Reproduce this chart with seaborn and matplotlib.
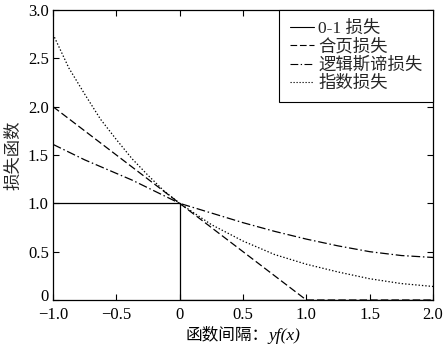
import numpy as np
import pandas as pd
import matplotlib
matplotlib.use("Agg")
import matplotlib.pyplot as plt
import matplotlib.transforms as mtransforms
from matplotlib.offsetbox import TextArea, HPacker, AnchoredOffsetbox
import seaborn as sns

# ---- data ----
margin = [-1.0, -0.875, -0.75, -0.625, -0.5, -0.375, -0.25, -0.125, 0.0,
          0.25, 0.5, 0.75, 1.0, 1.25, 1.5, 1.75, 2.0]
exp_loss = [2.75, 2.40, 2.13, 1.87, 1.66, 1.46, 1.29, 1.13, 1.0,
            0.78, 0.61, 0.47, 0.37, 0.29, 0.22, 0.17, 0.14]
logistic_loss = [1.61, 1.53, 1.45, 1.38, 1.31, 1.24, 1.16, 1.08, 1.0,
                 0.90, 0.80, 0.71, 0.63, 0.56, 0.50, 0.46, 0.44]
hinge_x = [-1.0, 1.0, 2.0]
hinge_loss = [2.0, 0.0, 0.0]
zero_one_x = [-1.0, 0.0, 0.0, 2.0]
zero_one_loss = [1.0, 1.0, 0.0, 0.0]

series_names = ["0-1 损失", "合页损失", "逻辑斯谛损失", "指数损失"]
x_ticks = [-1.0, -0.5, 0.0, 0.5, 1.0, 1.5, 2.0]
x_tick_labels = ["\u22121.0", "\u22120.5", "0", "0.5", "1.0", "1.5", "2.0"]
y_ticks = [0.0, 0.5, 1.0, 1.5, 2.0, 2.5, 3.0]
y_tick_labels = ["0", "0.5", "1.0", "1.5", "2.0", "2.5", "3.0"]
x_label_cn = "函数间隔："
x_label_math = "yf(x)"
y_label = "损失函数"

sns.set_style("ticks")
FAM = ["Liberation Serif", "Noto Sans CJK SC"]
plt.rcParams["font.family"] = FAM
plt.rcParams["axes.unicode_minus"] = True

fig = plt.figure(figsize=(4.47, 3.49), dpi=100)
ax = fig.add_axes([0.1186, 0.1404, 0.8501, 0.8309])

df01 = pd.DataFrame({"x": zero_one_x, "y": zero_one_loss})
dfh = pd.DataFrame({"x": hinge_x, "y": hinge_loss})
dfl = pd.DataFrame({"x": margin, "y": logistic_loss})
dfe = pd.DataFrame({"x": margin, "y": exp_loss})

common = dict(ax=ax, color="black", linewidth=0.9, estimator=None, sort=False)
sns.lineplot(data=df01, x="x", y="y", label=series_names[0], linestyle="-", **common)
sns.lineplot(data=dfh, x="x", y="y", label=series_names[1], **common)
sns.lineplot(data=dfl, x="x", y="y", label=series_names[2], **common)
sns.lineplot(data=dfe, x="x", y="y", label=series_names[3], **common)

lines = ax.get_lines()
lines[1].set_dashes([6, 2.5])
lines[2].set_dashes([7, 2.2, 1.2, 2.2])
lines[3].set_dashes([1.1, 1.6])

ax.set_xlim(-1.0, 2.0)
ax.set_ylim(0.0, 3.0)
ax.set_xticks(x_ticks)
ax.set_xticklabels(x_tick_labels)
ax.set_yticks(y_ticks)
ax.set_yticklabels(y_tick_labels)
ax.tick_params(direction="in", length=4, width=0.8, top=True, right=True,
               labelsize=12, colors="black", pad=3)
ax.tick_params(axis="x", pad=5)
# nudge the "0" y tick label up a bit, as in the reference
ylab0 = ax.get_yticklabels()[0]
ylab0.set_transform(ylab0.get_transform() +
                    mtransforms.ScaledTranslation(0, 5 / 100, fig.dpi_scale_trans))

ax.set_xlabel("")
ax.set_ylabel(y_label, fontsize=12.5, labelpad=4)

# x label: Chinese text + italic serif "yf(x)"
ta1 = TextArea(x_label_cn, textprops=dict(fontsize=12, family=FAM, color="black"))
ta2 = TextArea(x_label_math, textprops=dict(fontsize=12.5, family=FAM, style="italic", color="black"))
pack = HPacker(children=[ta1, ta2], align="baseline", pad=0, sep=0)
anch = AnchoredOffsetbox(loc="upper center", child=pack, pad=0, frameon=False,
                         bbox_to_anchor=(0.5, -0.095), bbox_transform=ax.transAxes,
                         borderpad=0)
ax.add_artist(anch)

for s in ax.spines.values():
    s.set_color("black")
    s.set_linewidth(0.9)
    s.set_visible(True)

leg = ax.legend(loc="upper right", borderaxespad=0, fontsize=12.5, handlelength=1.4,
                handletextpad=0.25, labelspacing=0.12, borderpad=0.6, fancybox=False,
                framealpha=1, edgecolor="black")
leg.get_frame().set_linewidth(0.8)
for h in leg.get_lines():
    h.set_linewidth(0.8)

fig.savefig("out.png", dpi=100, facecolor="white")
